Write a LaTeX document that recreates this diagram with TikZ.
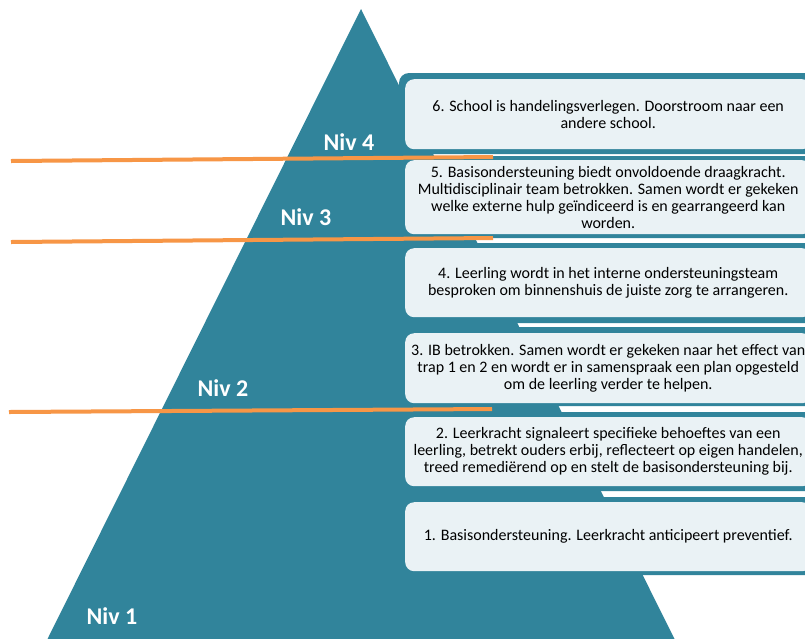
\documentclass[tikz,border=0pt]{standalone}
\usepackage{fontspec}
\setmainfont{Carlito}
\definecolor{pteal}{HTML}{31849B}
\definecolor{porange}{HTML}{F79646}
\begin{document}
\begin{tikzpicture}[x=1pt,y=-1pt,
  band/.style={fill=pteal, rounded corners=10pt},
  stepbox/.style={anchor=north west, fill=white, fill opacity=0.9, text opacity=1,
    rounded corners=9pt, inner sep=0pt, minimum width=406pt, align=center,
    font=\fontsize{16}{17}\selectfont, text=black},
  lbl/.style={text=white, font=\fontsize{24}{28}\selectfont\bfseries, inner sep=0pt},
  orangeline/.style={draw=porange, line width=4pt}
]
\useasboundingbox (0,0) rectangle (805,638);
\fill[white] (0,0) rectangle (805,638);
\begin{scope}
\clip (0,0) rectangle (805,638);
\fill[pteal] (361,9) -- (47,640) -- (675,640) -- cycle;
% bands
\fill[band] (399,73) rectangle (830,154);
\fill[band] (399,156) rectangle (830,238);
\fill[band] (399,243) rectangle (830,323);
\fill[band] (399,327) rectangle (830,406);
\fill[band] (399,412) rectangle (830,491);
\fill[band] (399,497) rectangle (830,575);
% boxes
\node[stepbox, minimum height=70pt] (b6) at (405,79) {6. School is handelingsverlegen. Doorstroom naar een\\andere school.};
\node[stepbox, minimum height=74pt] (b5) at (405,160) {5. Basisondersteuning biedt onvoldoende draagkracht.\\Multidisciplinair team betrokken. Samen wordt er gekeken\\welke externe hulp geïndiceerd is en gearrangeerd kan\\worden.};
\node[stepbox, minimum height=69pt] (b4) at (405,248) {4. Leerling wordt in het interne ondersteuningsteam\\besproken om binnenshuis de juiste zorg te arrangeren.};
\node[stepbox, minimum height=70pt] (b3) at (405,333) {3. IB betrokken. Samen wordt er gekeken naar het effect van\\trap 1 en 2 en wordt er in samenspraak een plan opgesteld\\om de leerling verder te helpen.};
\node[stepbox, minimum height=69pt] (b2) at (405,417) {2. Leerkracht signaleert specifieke behoeftes van een\\leerling, betrekt ouders erbij, reflecteert op eigen handelen,\\treed remediërend op en stelt de basisondersteuning bij.};
\node[stepbox, minimum height=69pt] (b1) at (405,502) {1. Basisondersteuning. Leerkracht anticipeert preventief.};
\end{scope}
% orange lines
\coordinate (o1a) at (11,161); \coordinate (o1b) at (493,157);
\coordinate (o2a) at (11,242); \coordinate (o2b) at (493,238);
\coordinate (o3a) at (9,412);  \coordinate (o3b) at (492,409);
\draw[orangeline] (o1a) -- (o1b);
\draw[orangeline] (o2a) -- (o2b);
\draw[orangeline] (o3a) -- (o3b);
% labels
\node[lbl] (n4) at (349,142) {Niv 4};
\node[lbl] (n3) at (306,217) {Niv 3};
\node[lbl] (n2) at (223,388) {Niv 2};
\node[lbl] (n1) at (112,616) {Niv 1};
\end{tikzpicture}
\end{document}
